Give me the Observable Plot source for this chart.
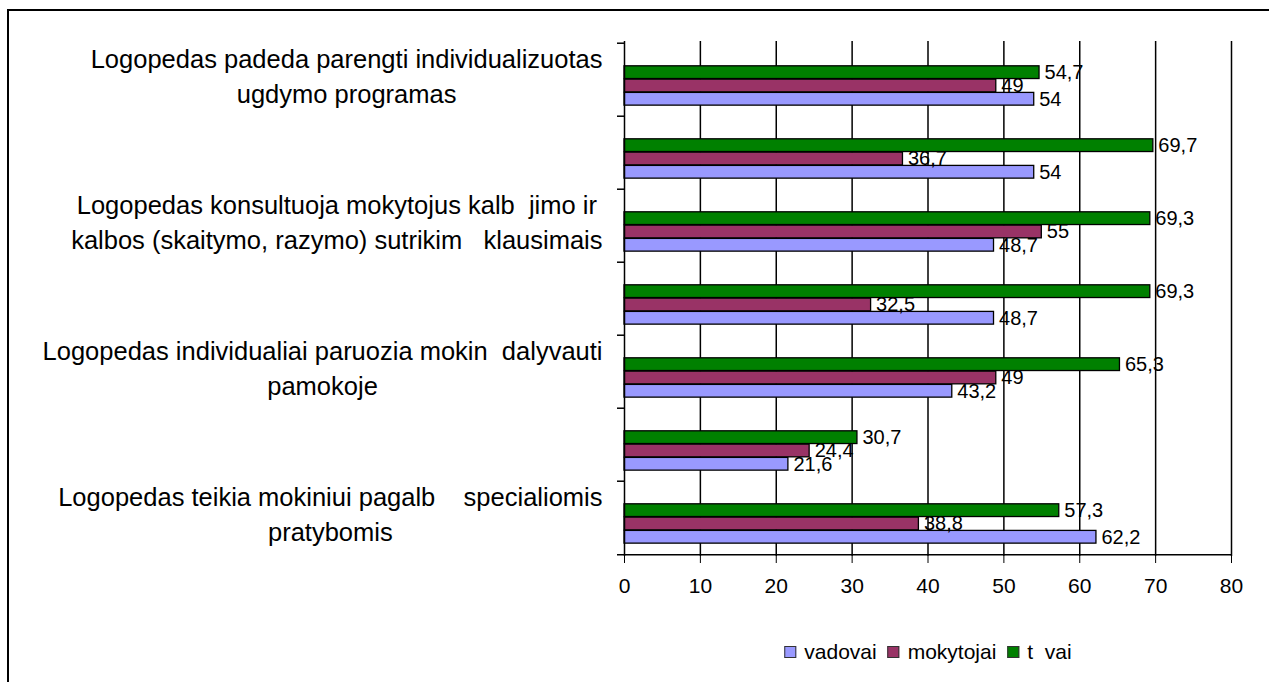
<!DOCTYPE html>
<html>
<head>
<meta charset="utf-8">
<script src="https://cdn.jsdelivr.net/npm/d3@7"></script>
<script src="https://cdn.jsdelivr.net/npm/@observablehq/plot@0.6"></script>
<style>
html, body { margin: 0; padding: 0; background: #fff; }
body { width: 1269px; height: 682px; overflow: hidden; position: relative; font-family: "Liberation Sans", Arial, sans-serif; }
#frame { position: absolute; left: 7px; top: 9px; width: 1280px; height: 700px; border-top: 2px solid #000; border-left: 2px solid #000; }
#chart { position: absolute; left: 0; top: 0; }
#legend { position: absolute; left: 928px; top: 640px; transform: translateX(-50%); display: flex; align-items: center; font-size: 21px; line-height: 24px; color: #000; white-space: nowrap; }
#legend .item { display: flex; align-items: center; margin-right: 11px; }
#legend .item:last-child { margin-right: 0; }
#legend .sw { width: 10px; height: 10px; border: 1.5px solid #333; margin-right: 8px; }
</style>
</head>
<body>
<div id="frame"><div id="chart"></div></div>
<div id="legend"></div>
<script>
// ---- data ----
const categoryLabels = [
  "Logopedas padeda parengti individualizuotas\nugdymo programas",
  "",
  "Logopedas konsultuoja mokytojus kalb\u00a0\u00a0jimo ir\nkalbos (skaitymo, razymo) sutrikim\u00a0\u00a0\u00a0klausimais",
  "",
  "Logopedas individualiai paruozia mokin\u00a0\u00a0dalyvauti\npamokoje",
  "",
  "Logopedas teikia mokiniui pagalb\u00a0\u00a0\u00a0\u00a0specialiomis\npratybomis"
];
const seriesNames = ["vadovai", "mokytojai", "t\u00a0\u00a0vai"];
const seriesColors = ["#9999ff", "#993366", "#008000"];
const vadovai   = [54,   54,   48.7, 48.7, 43.2, 21.6, 62.2];
const mokytojai = [49,   36.7, 55,   32.5, 49,   24.4, 38.8];
const tevai     = [54.7, 69.7, 69.3, 69.3, 65.3, 30.7, 57.3];
const xTicks = [0, 10, 20, 30, 40, 50, 60, 70, 80];

// ---- layout ----
const W = 1260, H = 600;
const mL = 615, mR = 38, mT = 30, mB = 55;
const plotW = W - mL - mR;
const plotH = H - mT - mB;
const n = categoryLabels.length;
const bw = plotH / n;
const idx = d3.range(n);
const seriesValues = [vadovai, mokytojai, tevai];
// slot order inside a group, top to bottom: tevai, mokytojai, vadovai
const slotOf = [2, 1, 0];
const barTop = 22.8, barH = 13.3;
const fmt = v => String(v).replace(".", ",");

const ctx = document.createElement("canvas").getContext("2d");
ctx.font = "25.5px 'Liberation Sans'";
const labelRight = -22; // relative to plot left edge

const marks = [];
marks.push(Plot.ruleX(xTicks.filter(t => t > 0), {stroke: "#000", strokeWidth: 1.5}));
seriesValues.forEach((vals, s) => {
  const k = slotOf[s];
  const rows = idx.map(i => ({i, v: vals[i]}));
  marks.push(Plot.barX(rows, {
    x: "v", y: "i", fill: seriesColors[s], stroke: "#000", strokeWidth: 1.3,
    insetTop: barTop + k * barH, insetBottom: bw - barTop - (k + 1) * barH
  }));
});
marks.push(Plot.ruleX([0], {stroke: "#000", strokeWidth: 1.5}));
marks.push(Plot.ruleY(idx, {y: d => d, dy: -bw / 2, insetLeft: -7, insetRight: plotW, stroke: "#000", strokeWidth: 1.5}));
marks.push(Plot.ruleY([n - 1], {y: d => d, dy: bw / 2, insetLeft: -7, stroke: "#000", strokeWidth: 1.5}));
seriesValues.forEach((vals, s) => {
  const k = slotOf[s];
  const rows = idx.map(i => ({i, v: vals[i], t: fmt(vals[i])}));
  marks.push(Plot.text(rows, {
    x: "v", y: "i", text: "t", textAnchor: "start", dx: 5,
    dy: barTop + (k + 0.5) * barH - bw / 2, fontSize: 20, fill: "#000"
  }));
});
categoryLabels.forEach((label, i) => {
  if (!label) return;
  const w = d3.max(label.split("\n"), l => ctx.measureText(l).width);
  marks.push(Plot.text([{i, label}], {
    y: "i", text: "label", frameAnchor: "left", textAnchor: "middle",
    dx: labelRight - w / 2, dy: -6, fontSize: 25.5, lineHeight: 1.38, fill: "#000"
  }));
});

const chart = Plot.plot({
  width: W, height: H,
  marginLeft: mL, marginRight: mR, marginTop: mT, marginBottom: mB,
  style: {fontFamily: "'Liberation Sans', Arial, sans-serif", fontSize: "21px", color: "#000", background: "transparent", overflow: "visible"},
  x: {domain: [0, 80], ticks: xTicks, tickSize: 7, tickPadding: 15, tickFormat: d => String(d), label: null},
  y: {type: "band", domain: idx, padding: 0, axis: null},
  marks
});
document.getElementById("chart").appendChild(chart);

const legend = document.getElementById("legend");
seriesNames.forEach((name, s) => {
  const item = document.createElement("div");
  item.className = "item";
  const sw = document.createElement("div");
  sw.className = "sw";
  sw.style.background = seriesColors[s];
  const tx = document.createElement("span");
  tx.textContent = name;
  item.appendChild(sw);
  item.appendChild(tx);
  legend.appendChild(item);
});
</script>
</body>
</html>
